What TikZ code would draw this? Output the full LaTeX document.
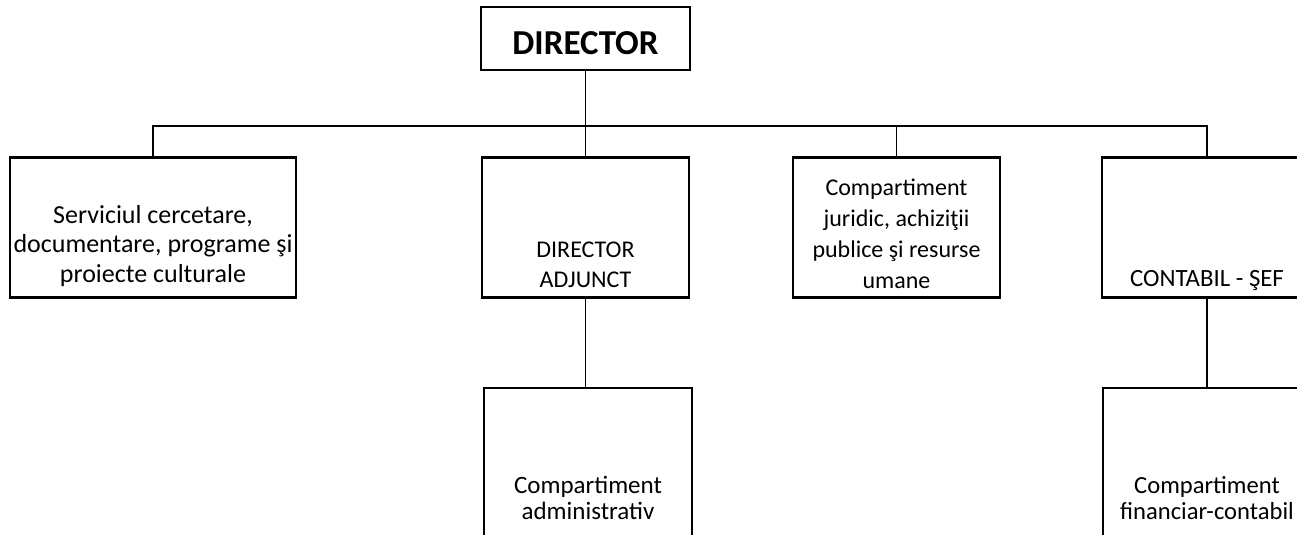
\documentclass[tikz,border=0pt]{standalone}
\usepackage{fontspec}
\setmainfont{Carlito}
\usetikzlibrary{positioning}

\newcommand{\boxtext}[4]{\parbox[c][#1][b]{#2}{\centering #3\strut\par\vspace{#4}}}

\begin{document}
\begin{tikzpicture}[
x=0.5pt,y=-0.5pt,
unit/.style={
  draw,
  line width=1.1pt,
  inner sep=0pt,
  font=\fontsize{12}{15}\selectfont
},
head/.style={
  unit,
  font=\fontsize{17.5}{21}\selectfont\bfseries
},
link/.style={
  line width=0.7pt
}
]
\useasboundingbox (0,0) rectangle (1297,535);
\clip (0,0) rectangle (1297,535);

\node[head] at (585.5,38.5) 
  (dir) {\boxtext{31.5pt}{104.5pt}{DIRECTOR}{1.2pt}};
\coordinate (bus) at (585.5,126);

\node[unit,font=\fontsize{13}{14.75}\selectfont] at (153,227.5) 
  (svc) {\boxtext{70pt}{143pt}{Serviciul cercetare,\\ documentare, programe şi\\ proiecte culturale}{3.3pt}};
\node[unit] at (585.5,227.5) 
  (adj) {\boxtext{70pt}{103.5pt}{DIRECTOR\\ ADJUNCT}{0.3pt}};
\node[unit,font=\fontsize{12}{15.5}\selectfont] at (896.5,227.5) 
  (jur) {\boxtext{70pt}{103.5pt}{Compartiment\\ juridic, achiziţii\\ publice şi resurse\\ umane}{0pt}};
\node[unit,font=\fontsize{12.4}{15}\selectfont] at (1207,227.5) 
  (cont) {\boxtext{70pt}{105pt}{CONTABIL - ŞEF}{0.8pt}};

\node[unit,font=\fontsize{12.5}{13}\selectfont] at (588,468) 
  (adm) {\boxtext{80pt}{104pt}{Compartiment\\ administrativ}{10.5pt}};
\node[unit,font=\fontsize{12.3}{13}\selectfont] at (1207,468) 
  (fin) {\boxtext{80pt}{104pt}{Compartiment\\ financiar-contabil}{10.5pt}};

\draw[link] (dir) -- (dir |- bus);
\draw[link] (svc.north) -- (svc.north |- bus) -- (cont.north |- bus) -- (cont.north);
\draw[link] (adj.north) -- (adj.north |- bus);
\draw[link] (jur.north) -- (jur.north |- bus);
\draw[link] (adj.south) -- (adj.south |- adm.north);
\draw[link] (cont.south) -- (cont.south |- fin.north);
\end{tikzpicture}
\end{document}
